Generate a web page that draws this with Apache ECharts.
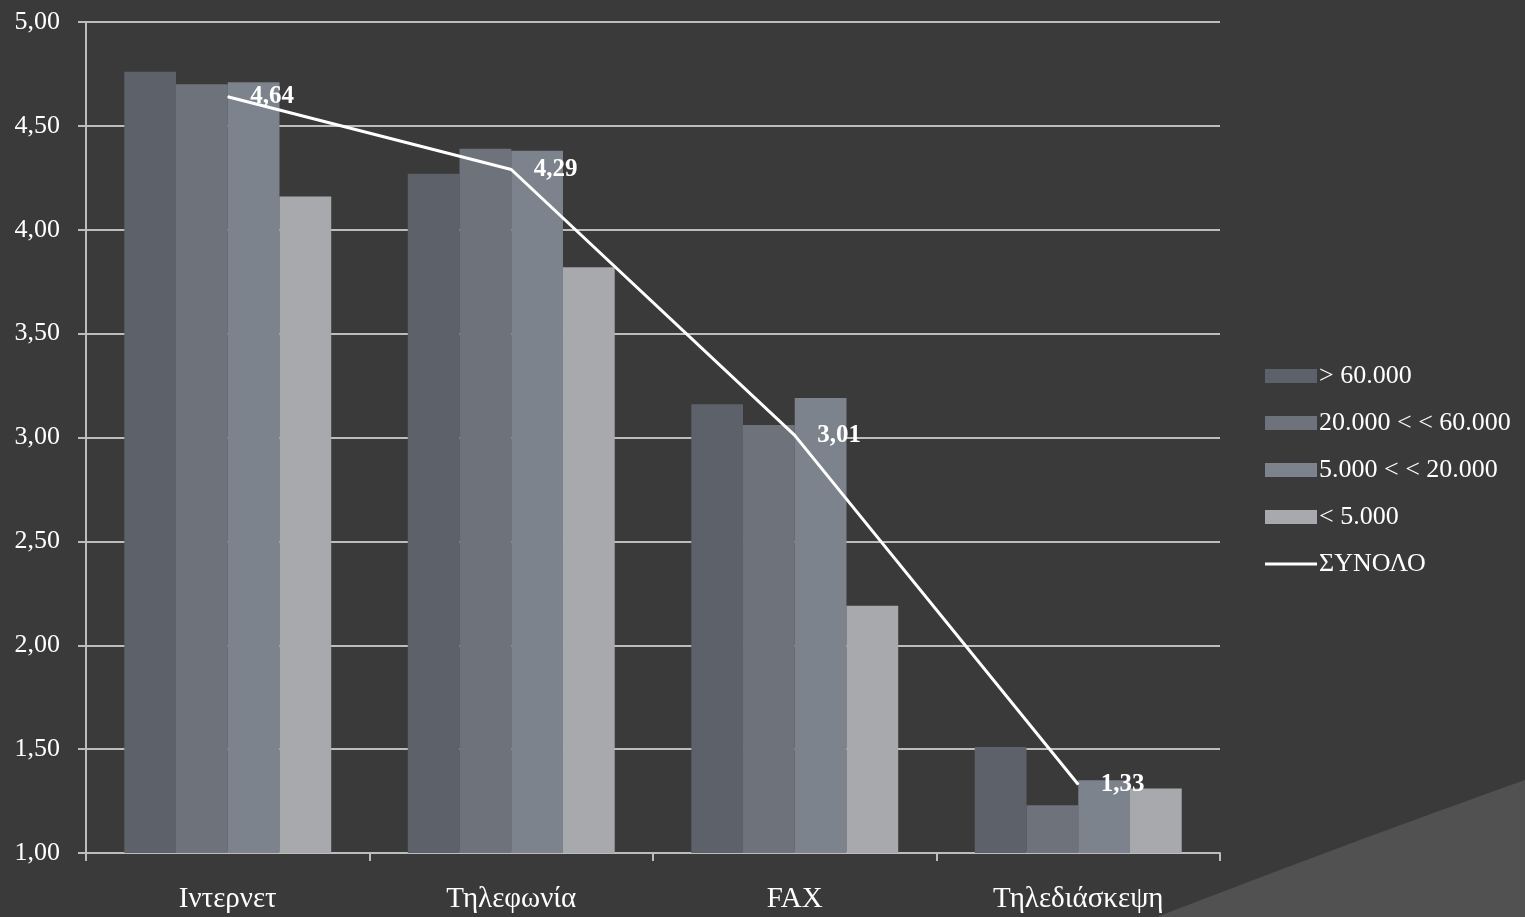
<!DOCTYPE html>
<html><head><meta charset="utf-8">
<script src="https://cdn.jsdelivr.net/npm/echarts@6/dist/echarts.min.js"></script>
<style>html,body{margin:0;padding:0;background:#3a3a3a;}#c{width:1525px;height:917px;}</style>
</head><body><div id="c"></div>
<script>
const categories = ['Ιντερνετ', 'Τηλεφωνία', 'FAX', 'Τηλεδιάσκεψη'];
const seriesNames = ['> 60.000', '20.000 < < 60.000', '5.000 < < 20.000', '< 5.000', 'ΣΥΝΟΛΟ'];
const over60k = [4.76, 4.27, 3.16, 1.51];
const from20kTo60k = [4.70, 4.39, 3.06, 1.23];
const from5kTo20k = [4.71, 4.38, 3.19, 1.35];
const under5k = [4.16, 3.82, 2.19, 1.31];
const total = [4.64, 4.29, 3.01, 1.33];
const yTicks = { min: 1, max: 5, interval: 0.5 };

const font = '"Liberation Serif", "DejaVu Serif", serif';
const barColors = ['#5d6169', '#6e727b', '#7d838c', '#a7a9ad'];

// background decoration (slide swoosh)
const deco = [];
for (let i = 0; i <= 24; i++) {
  const t = i / 24;
  const x = (1-t)*(1-t)*1157 + 2*(1-t)*t*1340 + t*t*1525;
  const y = (1-t)*(1-t)*917 + 2*(1-t)*t*846 + t*t*780;
  deco.push([x, y]);
}
deco.push([1525, 917]);

const lineIcon = 'path://M0,0L0.01,0L0,0.01Z M0,5.5L52,5.5L52,8.5L0,8.5Z M52,14L51.99,14L52,13.99Z';

const chart = echarts.init(document.getElementById('c'));
const barData = [over60k, from20kTo60k, from5kTo20k, under5k];
const series = barData.map((d, i) => ({
  name: seriesNames[i], type: 'bar', data: d,
  itemStyle: { color: barColors[i] },
  barGap: '0%', barCategoryGap: '27%'
}));
series.push({
  name: seriesNames[4], type: 'line', data: total,
  symbol: 'circle', symbolSize: 1, lineStyle: { color: '#ffffff', width: 3 },
  itemStyle: { color: '#ffffff' },
  label: { show: true, position: 'right', distance: 22, color: '#ffffff', fontWeight: 'bold',
    fontFamily: font, fontSize: 25, formatter: p => p.value.toFixed(2).replace('.', ',') },
  z: 5
});
chart.setOption({
  backgroundColor: '#3a3a3a',
  animation: false,
  graphic: [{
    type: 'polygon', z: -10, silent: true,
    shape: { points: deco },
    style: { fill: '#515151' }
  }],
  grid: { left: 86, right: 305, top: 22, bottom: 64 },
  legend: {
    orient: 'vertical', left: 1260, top: 358, itemGap: 21, itemWidth: 52, itemHeight: 14,
    textStyle: { color: '#ffffff', fontFamily: font, fontSize: 26, padding: [0,0,0,-3] },
    data: seriesNames.map((n, i) => i < 4 ? { name: n, icon: 'rect' } : { name: n, icon: lineIcon })
  },
  xAxis: {
    type: 'category', data: categories,
    axisLine: { lineStyle: { color: '#bdbdbd', width: 2 } },
    axisTick: { show: true, length: 8, lineStyle: { color: '#bdbdbd', width: 2 } },
    axisLabel: { color: '#ffffff', fontFamily: font, fontSize: 29, margin: 32 }
  },
  yAxis: {
    type: 'value', min: yTicks.min, max: yTicks.max, interval: yTicks.interval,
    axisLine: { show: true, lineStyle: { color: '#bdbdbd', width: 2 } },
    axisTick: { show: true, length: 8, lineStyle: { color: '#bdbdbd', width: 2 } },
    splitLine: { lineStyle: { color: '#bdbdbd', width: 2 } },
    axisLabel: { color: '#ffffff', fontFamily: font, fontSize: 26, margin: 26,
      formatter: v => v.toFixed(2).replace('.', ',') }
  },
  series: series
});
</script></body></html>
